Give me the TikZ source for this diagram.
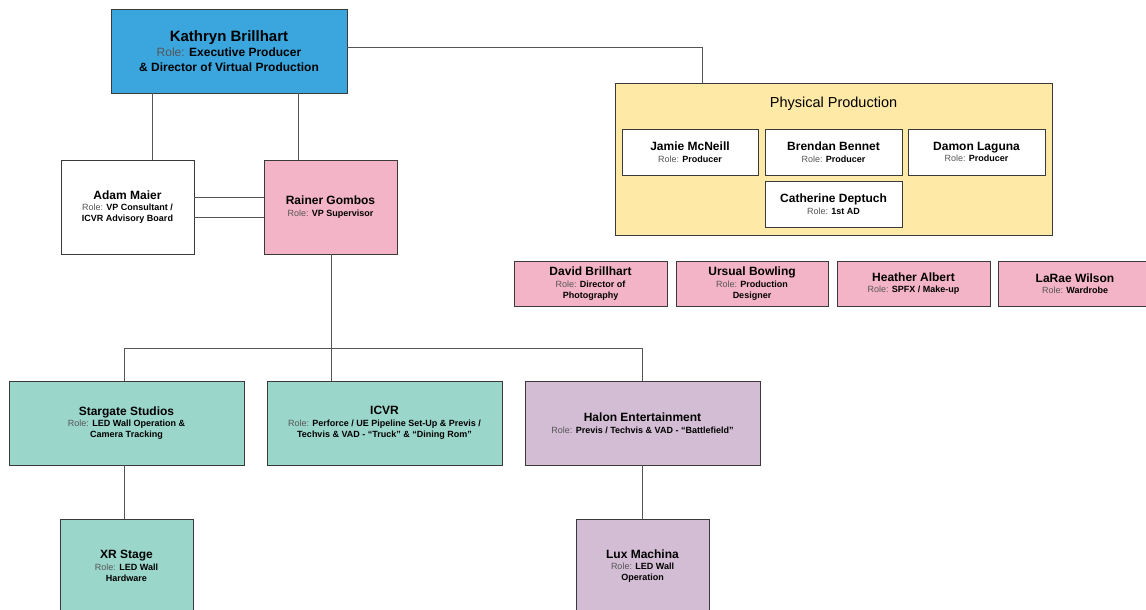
\documentclass[tikz,border=0pt]{standalone}
\usepackage{fontspec}
\setmainfont{Liberation Sans}
\definecolor{bordercol}{HTML}{3A3A3A}
\definecolor{linecol}{HTML}{555555}
\definecolor{rolegray}{HTML}{555555}
\definecolor{kblue}{HTML}{3BA6DE}
\definecolor{kpink}{HTML}{F4B4C8}
\definecolor{kyellow}{HTML}{FFE9A6}
\definecolor{kteal}{HTML}{9BD6CB}
\definecolor{kmauve}{HTML}{D3BDD4}
\newcommand\rl{\textcolor{rolegray}{\mdseries Role:}}
\newcommand\nm[1]{{\fontsize{12}{14}\selectfont\bfseries #1}\\[0.5pt]}
\tikzset{
  card/.style={draw=bordercol, line width=0.8pt, inner sep=0pt, align=center,
    font=\fontsize{9}{11}\selectfont\bfseries, text=black},
  link/.style={draw=linecol, line width=0.8pt},
}
\begin{document}
\begin{tikzpicture}[x=1pt,y=-1pt]
\useasboundingbox (0,0) rectangle (1146,610);
\begin{scope}
\clip (0,0) rectangle (1146,610);
% top
\node[card, fill=kblue, minimum width=236pt, minimum height=84pt,
      font=\fontsize{12}{14.5}\selectfont\bfseries] (kb) at (229,51)
  {{\fontsize{15}{17}\selectfont\bfseries Kathryn Brillhart}\\[0.5pt]
   \rl{} Executive Producer\\
   \& Director of Virtual Production};
\node[card, fill=white, minimum width=133pt, minimum height=94pt] (adam) at (127.5,207)
  {\nm{Adam Maier}\rl{} VP Consultant /\\ICVR Advisory Board};
\node[card, fill=kpink, minimum width=133pt, minimum height=94pt] (rainer) at (330.5,207)
  {\nm{Rainer Gombos}\rl{} VP Supervisor};
% physical production
\node[card, fill=kyellow, minimum width=437pt, minimum height=152pt] (pp) at (833.5,159) {};
\node[font=\fontsize{14.5}{16}\selectfont, inner sep=0pt] (pptitle) at (833.5,104) {Physical Production};
\node[card, fill=white, minimum width=136pt, minimum height=46pt] (jamie) at (690,152)
  {\nm{Jamie McNeill}\rl{} Producer};
\node[card, fill=white, minimum width=137pt, minimum height=46pt] (brendan) at (833.5,152)
  {\nm{Brendan Bennet}\rl{} Producer};
\node[card, fill=white, minimum width=137pt, minimum height=46pt] (damon) at (976.5,152)
  {\nm{Damon Laguna}\rl{} Producer};
\node[card, fill=white, minimum width=137pt, minimum height=46pt] (cath) at (833.5,204)
  {\nm{Catherine Deptuch}\rl{} 1st AD};
% pink row
\node[card, fill=kpink, minimum width=153pt, minimum height=45pt] (david) at (590.5,283.5)
  {\nm{David Brillhart}\rl{} Director of\\Photography};
\node[card, fill=kpink, minimum width=152pt, minimum height=45pt] (ursual) at (752,283.5)
  {\nm{Ursual Bowling}\rl{} Production\\Designer};
\node[card, fill=kpink, minimum width=153pt, minimum height=45pt] (heather) at (913.5,283.5)
  {\nm{Heather Albert}\rl{} SPFX / Make-up};
\node[card, fill=kpink, minimum width=154pt, minimum height=45pt] (larae) at (1075,283.5)
  {\nm{LaRae Wilson}\rl{} Wardrobe};
% companies
\node[card, fill=kteal, minimum width=235pt, minimum height=84pt] (star) at (126.5,423)
  {\nm{Stargate Studios}\rl{} LED Wall Operation \&\\Camera Tracking};
\node[card, fill=kteal, minimum width=235pt, minimum height=84pt] (icvr) at (384.5,423)
  {\nm{ICVR}\rl{} Perforce / UE Pipeline Set-Up \& Previs /\\Techvis \& VAD - “Truck” \& “Dining Rom”};
\node[card, fill=kmauve, minimum width=235pt, minimum height=84pt] (halon) at (642.5,423)
  {\nm{Halon Entertainment}\rl{} Previs / Techvis \& VAD - “Battlefield”};
\node[card, fill=kteal, minimum width=133pt, minimum height=94pt] (xr) at (126.5,566)
  {\nm{XR Stage}\rl{} LED Wall\\Hardware};
\node[card, fill=kmauve, minimum width=133pt, minimum height=94pt] (lux) at (642.5,566)
  {\nm{Lux Machina}\rl{} LED Wall\\Operation};
% connectors
\coordinate (kbA) at ([xshift=-77pt]kb.south);
\coordinate (kbB) at ([xshift=69pt]kb.south);
\draw[link] (kbA) -- (kbA |- adam.north);
\draw[link] (kbB) -- (kbB |- rainer.north);
\coordinate (kbR) at ([yshift=4pt]kb.east);
\coordinate (ppT) at ([xshift=-131.5pt]pp.north);
\draw[link] (kbR) -- (kbR -| ppT) -- (ppT);
\draw[link] ([yshift=10pt]adam.east) -- ([yshift=10pt]adam.east -| rainer.west);
\draw[link] ([yshift=-10pt]adam.east) -- ([yshift=-10pt]adam.east -| rainer.west);
\coordinate (bus) at (331,348);
\coordinate (busL) at (124,348);
\coordinate (busR) at (642,348);
\draw[link] (rainer.south -| bus) -- (bus);
\draw[link] (busL) -- (busR);
\draw[link] (busL) -- (busL |- star.north);
\draw[link] (bus) -- (bus |- icvr.north);
\draw[link] (busR) -- (busR |- halon.north);
\draw[link] (busL |- star.south) -- (busL |- xr.north);
\draw[link] (busR |- halon.south) -- (busR |- lux.north);
\end{scope}
\end{tikzpicture}
\end{document}
